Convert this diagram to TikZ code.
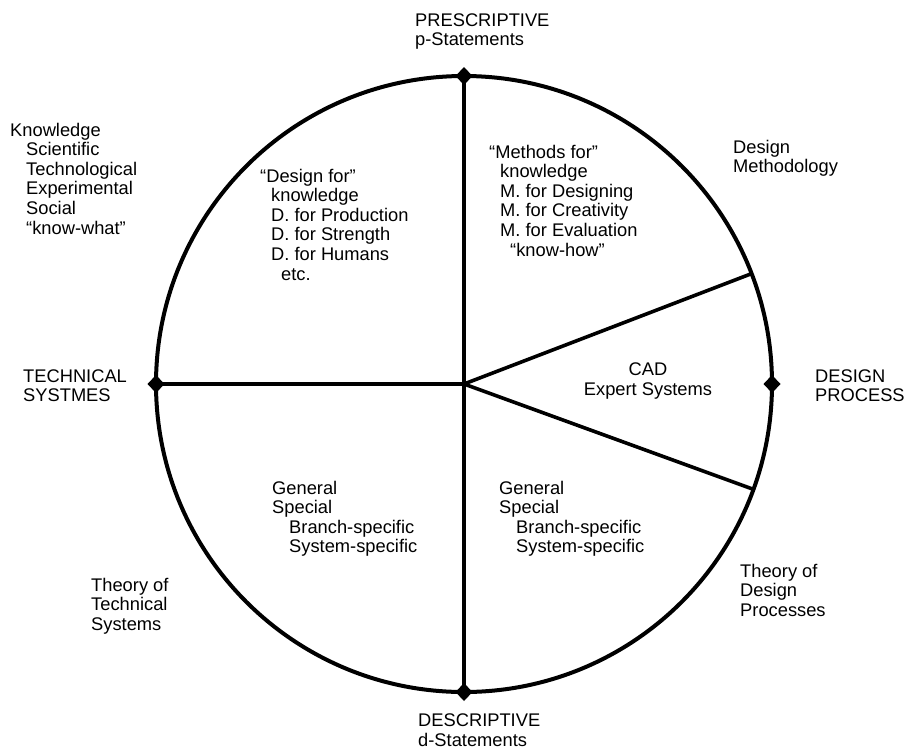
\documentclass[tikz,border=0pt]{standalone}
\usepackage{fontspec}
\setmainfont{Liberation Sans}
\begin{document}
\begin{tikzpicture}[x=1pt,y=-1pt,
  lbl/.style={anchor=base west,inner sep=0pt,align=left,
    font=\fontsize{18.3}{19.6}\selectfont},
  clbl/.style={anchor=base,inner sep=0pt,align=center,
    font=\fontsize{18.3}{20.6}\selectfont},
  rim/.style={line width=4pt},
  spoke/.style={line width=3.6pt},
  tip/.style={fill=black}]
\useasboundingbox (0,0) rectangle (907,753);

% the circle of the design-science map
\node[circle,draw,rim,minimum size=616pt,inner sep=0pt,outer sep=0pt] (c) at (464,384) {};

% dividing lines
\draw[spoke] (c.north) -- (c.south);
\draw[spoke] (c.west) -- (c.center);
\draw[spoke] (c.center) -- (c.21);
\draw[spoke] (c.center) -- (c.-20);

% small diamond marks where the axes meet the rim
\foreach \a in {north,south,east,west}{
  \fill[tip] (c.\a) ++(0,-9) -- ++(8.5,9) -- ++(-8.5,9) -- ++(-8.5,-9) -- cycle;
}

% axis labels (node base = baseline of the last line)
\node[lbl] (pre) at (415,45.6) {PRESCRIPTIVE\\p-Statements};
\node[lbl] (des) at (418,746) {DESCRIPTIVE\\d-Statements};
\node[lbl] (tec) at (23,401.6) {TECHNICAL\\SYSTMES};
\node[lbl] (dpr) at (815,401.6) {DESIGN\\PROCESS};

% outer labels
\node[lbl] (know) at (10,234) {Knowledge\\
  \hspace*{16pt}Scientific\\
  \hspace*{16pt}Technological\\
  \hspace*{16pt}Experimental\\
  \hspace*{16pt}Social\\
  \hspace*{16pt}“know-what”};
\node[lbl] (dm) at (733,172.6) {Design\\Methodology};
\node[lbl] (tts) at (91,630.2) {Theory of\\Technical\\Systems};
\node[lbl] (tdp) at (740,616.2) {Theory of\\Design\\Processes};

% sector contents
\node[lbl] (dfor) at (260,280) {“Design for”\\
  \hspace*{11pt}knowledge\\
  \hspace*{11pt}D. for Production\\
  \hspace*{11pt}D. for Strength\\
  \hspace*{11pt}D. for Humans\\
  \hspace*{21pt}etc.};
\node[lbl] (mfor) at (489,256) {“Methods for”\\
  \hspace*{11pt}knowledge\\
  \hspace*{11pt}M. for Designing\\
  \hspace*{11pt}M. for Creativity\\
  \hspace*{11pt}M. for Evaluation\\
  \hspace*{21pt}“know-how”};
\node[clbl] (cad) at (648,395.6) {CAD\\Expert Systems};
\node[lbl] (gl) at (272,552.8) {General\\Special\\
  \hspace*{17pt}Branch-specific\\
  \hspace*{17pt}System-specific};
\node[lbl] (gr) at (499,552.8) {General\\Special\\
  \hspace*{17pt}Branch-specific\\
  \hspace*{17pt}System-specific};
\end{tikzpicture}
\end{document}
